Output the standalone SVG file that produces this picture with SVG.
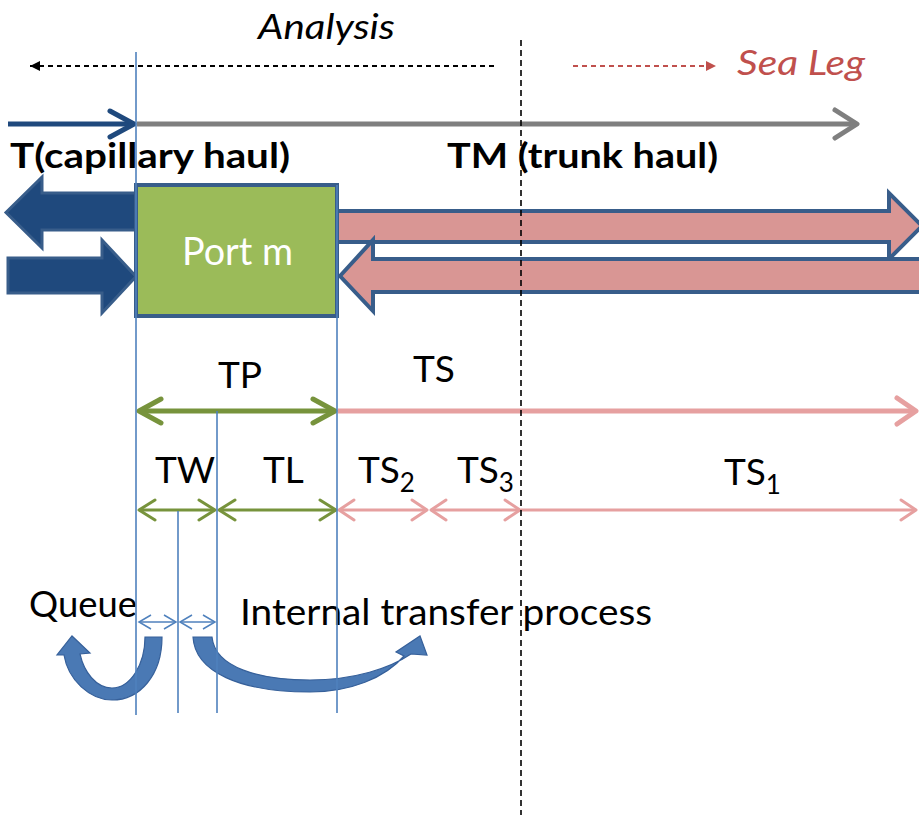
<svg xmlns="http://www.w3.org/2000/svg" width="919" height="815" viewBox="0 0 919 815">
<style>
text{font-family:Lato,"Open Sans","Liberation Sans",sans-serif;fill:#000}
.lbl{font-size:37px}
.bold{font-size:35px;font-weight:bold}
.ital{font-size:34px;font-style:italic}
.vline{stroke:#4f81bd;stroke-width:1.6;fill:none}
.blk-blue{fill:#1f497d;stroke:#385d8a;stroke-width:3;stroke-linejoin:miter}
.blk-pink{fill:#d99694;stroke:#385d8a;stroke-width:4;stroke-linejoin:miter}
.curve{fill:#4a79b4;stroke:#36609a;stroke-width:1.2}
</style>
<defs>
<marker id="m-blue" markerUnits="userSpaceOnUse" viewBox="-30 -18 36 36" markerWidth="36" markerHeight="36" refX="0" refY="0" orient="auto-start-reverse"><path d="M-24,-13 L0,0 L-24,13" fill="none" stroke="#1f497d" stroke-width="5" stroke-linecap="round" stroke-linejoin="round"/></marker>
<marker id="m-gray" markerUnits="userSpaceOnUse" viewBox="-30 -18 36 36" markerWidth="36" markerHeight="36" refX="0" refY="0" orient="auto-start-reverse"><path d="M-22,-14 L0,0 L-22,14" fill="none" stroke="#7f7f7f" stroke-width="5" stroke-linecap="round" stroke-linejoin="round"/></marker>
<marker id="m-green-big" markerUnits="userSpaceOnUse" viewBox="-30 -18 36 36" markerWidth="36" markerHeight="36" refX="0" refY="0" orient="auto-start-reverse"><path d="M-22,-12 L0,0 L-22,12" fill="none" stroke="#77933c" stroke-width="5" stroke-linecap="round" stroke-linejoin="round"/></marker>
<marker id="m-pink-big" markerUnits="userSpaceOnUse" viewBox="-30 -18 36 36" markerWidth="36" markerHeight="36" refX="0" refY="0" orient="auto-start-reverse"><path d="M-19,-13 L0,0 L-19,13" fill="none" stroke="#e6a0a0" stroke-width="5" stroke-linecap="round" stroke-linejoin="round"/></marker>
<marker id="m-green-sm" markerUnits="userSpaceOnUse" viewBox="-24 -14 28 28" markerWidth="28" markerHeight="28" refX="0" refY="0" orient="auto-start-reverse"><path d="M-16,-10 L0,0 L-16,10" fill="none" stroke="#77933c" stroke-width="3" stroke-linecap="round" stroke-linejoin="round"/></marker>
<marker id="m-pink-sm" markerUnits="userSpaceOnUse" viewBox="-24 -14 28 28" markerWidth="28" markerHeight="28" refX="0" refY="0" orient="auto-start-reverse"><path d="M-15,-10 L0,0 L-15,10" fill="none" stroke="#e6a0a0" stroke-width="3" stroke-linecap="round" stroke-linejoin="round"/></marker>
<marker id="m-lblue" markerUnits="userSpaceOnUse" viewBox="-18 -10 20 20" markerWidth="20" markerHeight="20" refX="0" refY="0" orient="auto-start-reverse"><path d="M-12,-7 L0,0 L-12,7" fill="none" stroke="#4f81bd" stroke-width="1.5"/></marker>
<marker id="m-black" markerUnits="userSpaceOnUse" viewBox="-12 -7 14 14" markerWidth="14" markerHeight="14" refX="0" refY="0" orient="auto-start-reverse"><path d="M-10,-5 L0,0 L-10,5 Z" fill="#000"/></marker>
<marker id="m-red" markerUnits="userSpaceOnUse" viewBox="-12 -7 14 14" markerWidth="14" markerHeight="14" refX="0" refY="0" orient="auto"><path d="M-10,-5 L0,0 L-10,5 Z" fill="#c0504d"/></marker>
</defs>
<rect width="919" height="815" fill="#fff"/>

<g id="label-analysis"><text class="ital" x="258" y="39" textLength="137" lengthAdjust="spacingAndGlyphs">Analysis</text></g>
<g id="label-sea-leg"><text class="ital" x="737" y="75" textLength="128" lengthAdjust="spacingAndGlyphs" style="fill:#c0504d">Sea Leg</text></g>
<g id="label-capillary"><text class="bold" x="10" y="168" textLength="280" lengthAdjust="spacingAndGlyphs">T(capillary haul)</text></g>
<g id="label-trunk"><text class="bold" x="447" y="168" textLength="271" lengthAdjust="spacingAndGlyphs">TM (trunk haul)</text></g>

<g id="flow-arrows">
<path class="blk-blue" d="M136,193 L42,193 L42,177 L6,212.5 L42,248 L42,230 L136,230 Z"/>
<path class="blk-blue" d="M8,258 L102,258 L102,240 L136,276.5 L102,313 L102,293 L8,293 Z"/>
<path class="blk-pink" d="M337,211 L889,211 L889,193 L922,226 L889,259 L889,242 L337,242 Z"/>
<path class="blk-pink" d="M340,276 L373,240 L373,259 L930,259 L930,292 L373,292 L373,311 Z"/>
</g>

<g id="port-m">
<rect x="136" y="185" width="201" height="131" fill="#9bbb59" stroke="#385d8a" stroke-width="4"/>
<text class="lbl" x="182" y="265" textLength="111" lengthAdjust="spacingAndGlyphs" style="fill:#fff;font-size:38px">Port m</text>
</g>

<g id="label-tp"><text class="lbl" x="218" y="388">TP</text></g>
<g id="label-ts"><text class="lbl" x="413" y="382">TS</text></g>
<g id="label-tw"><text class="lbl" x="155" y="483">TW</text></g>
<g id="label-tl"><text class="lbl" x="263" y="483">TL</text></g>
<g id="label-ts2"><text class="lbl" x="358" y="483">TS<tspan font-size="26" dy="9">2</tspan></text></g>
<g id="label-ts3"><text class="lbl" x="457" y="483">TS<tspan font-size="26" dy="9">3</tspan></text></g>
<g id="label-ts1"><text class="lbl" x="724" y="485">TS<tspan font-size="26" dy="9">1</tspan></text></g>
<g id="label-queue"><text class="lbl" x="29" y="617" textLength="108" lengthAdjust="spacingAndGlyphs">Queue</text></g>
<g id="label-internal"><text class="lbl" x="240" y="625" textLength="412" lengthAdjust="spacingAndGlyphs">Internal transfer process</text></g>

<g id="connectors">
<line x1="30" y1="66" x2="497" y2="66" stroke="#000" stroke-width="2" stroke-dasharray="5,4" marker-start="url(#m-black)"/>
<line x1="573" y1="66" x2="716" y2="66" stroke="#c0504d" stroke-width="1.8" stroke-dasharray="5,4" marker-end="url(#m-red)"/>
<line x1="8" y1="124" x2="134" y2="124" stroke="#1f497d" stroke-width="5" marker-end="url(#m-blue)"/>
<line x1="137" y1="124" x2="857" y2="124" stroke="#7f7f7f" stroke-width="5" marker-end="url(#m-gray)"/>
<line x1="139" y1="411" x2="335" y2="411" stroke="#77933c" stroke-width="5" marker-start="url(#m-green-big)" marker-end="url(#m-green-big)"/>
<line x1="338" y1="411" x2="916" y2="411" stroke="#e6a0a0" stroke-width="5" marker-end="url(#m-pink-big)"/>
<line x1="139" y1="510" x2="215" y2="510" stroke="#77933c" stroke-width="3" marker-start="url(#m-green-sm)" marker-end="url(#m-green-sm)"/>
<line x1="219" y1="510" x2="336" y2="510" stroke="#77933c" stroke-width="3" marker-start="url(#m-green-sm)" marker-end="url(#m-green-sm)"/>
<line x1="339" y1="510" x2="427" y2="510" stroke="#e6a0a0" stroke-width="3" marker-start="url(#m-pink-sm)" marker-end="url(#m-pink-sm)"/>
<line x1="431" y1="510" x2="520" y2="510" stroke="#e6a0a0" stroke-width="3" marker-start="url(#m-pink-sm)" marker-end="url(#m-pink-sm)"/>
<line x1="521" y1="510" x2="916" y2="510" stroke="#e6a0a0" stroke-width="3" marker-end="url(#m-pink-sm)"/>
<line x1="139" y1="622" x2="176" y2="622" stroke="#4f81bd" stroke-width="1.5" marker-start="url(#m-lblue)" marker-end="url(#m-lblue)"/>
<line x1="180" y1="622" x2="215" y2="622" stroke="#4f81bd" stroke-width="1.5" marker-start="url(#m-lblue)" marker-end="url(#m-lblue)"/>
<path class="curve" d="M145,637 L162,637 C162,675 140,700 112,700 C90,700 68,680 64,655 L57,655 L72,636 L90,653 L80,654 C84,672 96,688 112,688 C130,688 145,665 145,637 Z"/>
<path class="curve" d="M193,637 L212,637 C215,668 260,680 310,680 C355,680 390,668 411,654 L427,655 L420,636 L396,652 L404,656 C385,678 350,692 310,692 C240,692 195,672 193,637 Z"/>
<line class="vline" x1="136" y1="52" x2="136" y2="715"/>
<line class="vline" x1="337" y1="185" x2="337" y2="713"/>
<line class="vline" x1="217" y1="411" x2="217" y2="713"/>
<line class="vline" x1="178" y1="511" x2="178" y2="713"/>
<line x1="521" y1="40" x2="521" y2="815" stroke="#000" stroke-width="1.6" stroke-dasharray="6,4"/>
</g>
</svg>
